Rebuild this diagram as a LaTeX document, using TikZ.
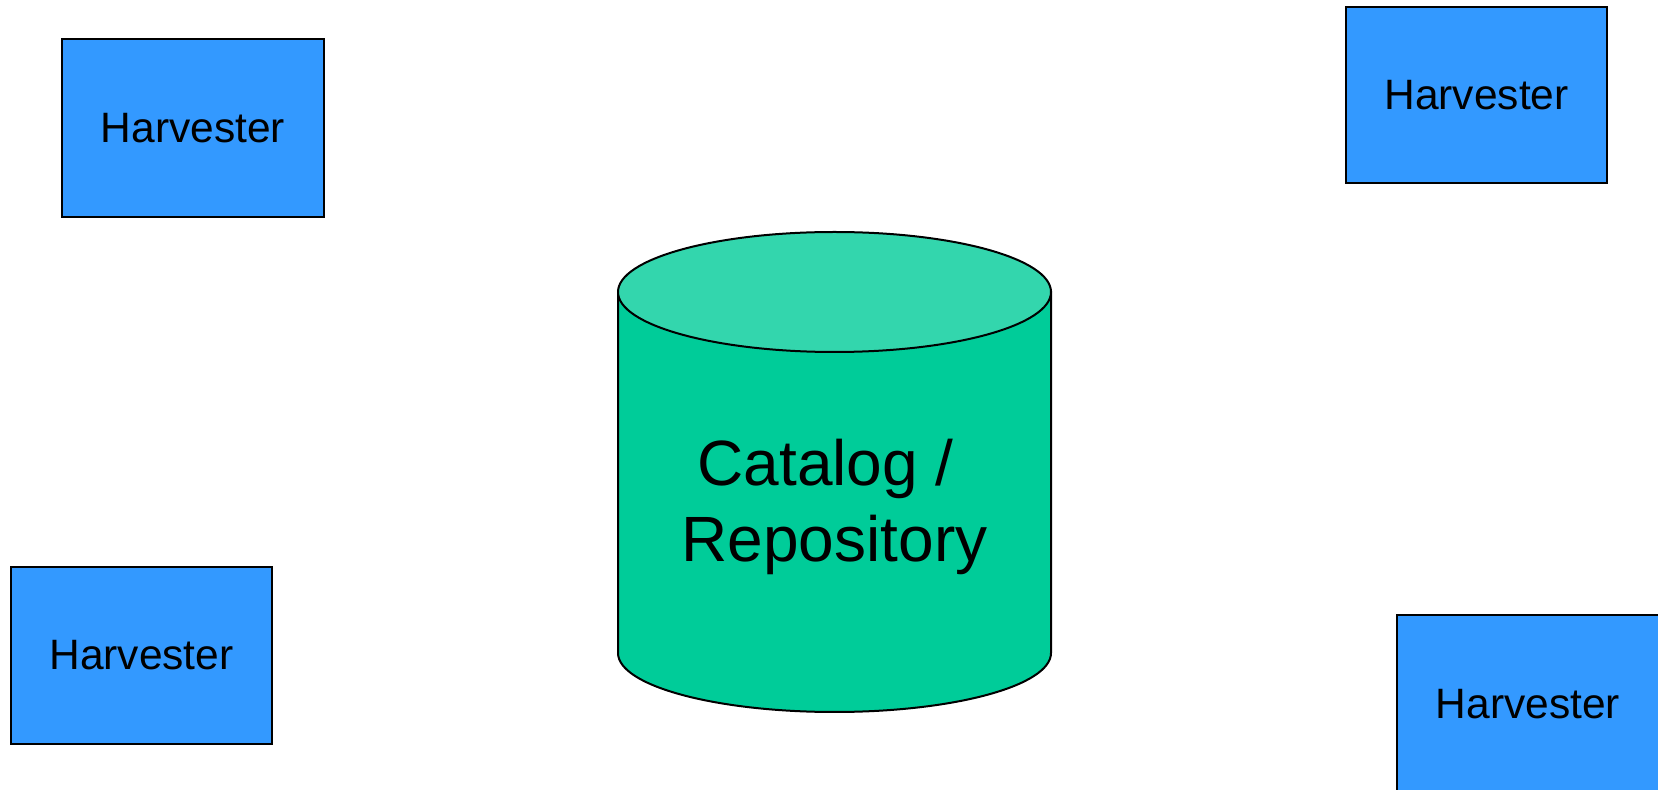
\documentclass[tikz,border=0pt]{standalone}
\usepackage{fontspec}
\setmainfont{Liberation Sans}
\definecolor{boxblue}{HTML}{3399FF}
\definecolor{cylbody}{HTML}{00CC99}
\definecolor{cyltop}{HTML}{33D6AD}
\begin{document}
\begin{tikzpicture}[x=1pt,y=1pt,
  harv/.style={draw=black, line width=2.4pt, fill=boxblue, rectangle,
    minimum width=262pt, minimum height=178pt, inner sep=0pt,
    font=\fontsize{42.5}{51}\selectfont},
  cyl/.style={draw=black, line width=2pt}]
\useasboundingbox (0,0) rectangle (1658,790);
\node[harv] (h1) at (193,662) {Harvester};
\node[harv, minimum width=261pt, minimum height=176pt] (h2) at (1476.5,695) {Harvester};
\node[harv, minimum width=261pt, minimum height=177pt] (h3) at (141.5,134.5) {Harvester};
\node[harv] (h4) at (1528,86) {Harvester};
% cylinder
\filldraw[cyl, fill=cylbody] (618,498) -- (618,137)
  arc[start angle=180, end angle=360, x radius=216.5pt, y radius=59pt]
  -- (1051,498) -- cycle;
\filldraw[cyl, fill=cyltop] (834.5,498) ellipse [x radius=216.5pt, y radius=60pt];
\node[font=\fontsize{64}{76}\selectfont, align=center, inner sep=0pt, anchor=base] (cat) at (834.5,228) {Catalog /\rule{18pt}{0pt}\\Repository};
\end{tikzpicture}
\end{document}
